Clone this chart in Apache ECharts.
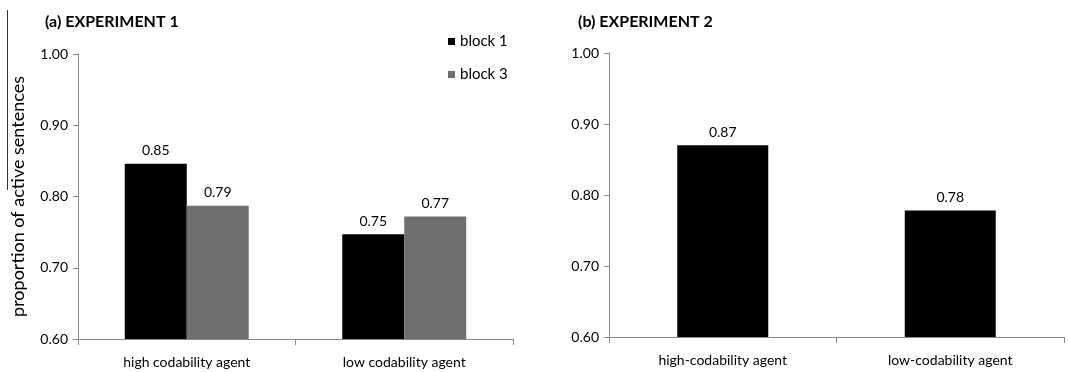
<!DOCTYPE html>
<html>
<head>
<meta charset="utf-8">
<script src="https://cdn.jsdelivr.net/npm/echarts@6/dist/echarts.min.js"></script>
<style>
  html, body { margin: 0; padding: 0; background: #fff; }
  #chart { width: 1068px; height: 372px; }
</style>
</head>
<body>
<div id="chart"></div>
<script>
// Experiment 1: proportion of active sentences by agent codability and block
const exp1Categories = ['high codability agent', 'low codability agent'];
const exp1Block1 = [0.846, 0.747];
const exp1Block3 = [0.787, 0.772];

// Experiment 2: proportion of active sentences by agent codability
const exp2Categories = ['high-codability agent', 'low-codability agent'];
const exp2Values = [0.870, 0.778];

const yTicks = { min: 0.6, max: 1.0, interval: 0.1 };

const FONT = 'Lato, "Liberation Sans", sans-serif';
const AXIS_GRAY = '#8a8a8a';
const TEXT = '#000000';

const valueLabel = {
  show: true,
  position: 'top',
  distance: 6,
  color: TEXT,
  fontFamily: FONT,
  fontSize: 14,
  formatter: p => p.value.toFixed(2)
};

function yAxis(gridIndex, withName) {
  return {
    type: 'value',
    gridIndex,
    min: yTicks.min,
    max: yTicks.max,
    interval: yTicks.interval,
    name: withName ? 'proportion of active sentences' : '',
    nameLocation: 'middle',
    nameGap: 51,
    nameTextStyle: { color: TEXT, fontFamily: FONT, fontSize: 18 },
    axisLine: { show: true, lineStyle: { color: AXIS_GRAY, width: 1 } },
    axisTick: { show: true, length: 5, lineStyle: { color: AXIS_GRAY } },
    axisLabel: { color: TEXT, fontFamily: FONT, fontSize: 14, margin: 10, formatter: v => v.toFixed(2) },
    splitLine: { show: false }
  };
}

function xAxis(gridIndex, data) {
  return {
    type: 'category',
    gridIndex,
    data,
    axisLine: { lineStyle: { color: AXIS_GRAY, width: 1 } },
    axisTick: { show: true, length: 6, lineStyle: { color: AXIS_GRAY } },
    axisLabel: { color: TEXT, fontFamily: FONT, fontSize: 14, margin: 16 }
  };
}

const chart = echarts.init(document.getElementById('chart'), null, { renderer: 'canvas' });

chart.setOption({
  animation: false,
  backgroundColor: '#fff',
  title: [
    { text: '(a) EXPERIMENT 1', left: 40, top: 9,
      textStyle: { fontFamily: FONT, fontSize: 16, fontWeight: 'bold', color: TEXT } },
    { text: '(b) EXPERIMENT 2', left: 573, top: 9,
      textStyle: { fontFamily: FONT, fontSize: 16, fontWeight: 'bold', color: TEXT } }
  ],
  legend: {
    data: ['block 1', 'block 3'],
    orient: 'vertical',
    left: 443,
    top: 29,
    icon: 'rect',
    itemWidth: 7,
    itemHeight: 7,
    itemGap: 18,
    textStyle: { fontFamily: FONT, fontSize: 15, color: TEXT, lineHeight: 14 }
  },
  grid: [
    { left: 78, top: 54, width: 435, height: 285 },
    { left: 609, top: 53, width: 455, height: 284 }
  ],
  xAxis: [xAxis(0, exp1Categories), xAxis(1, exp2Categories)],
  yAxis: [yAxis(0, true), yAxis(1, false)],
  series: [
    { name: 'block 1', type: 'bar', xAxisIndex: 0, yAxisIndex: 0, data: exp1Block1,
      itemStyle: { color: '#000000' }, barGap: '0%', barCategoryGap: '43%', label: valueLabel },
    { name: 'block 3', type: 'bar', xAxisIndex: 0, yAxisIndex: 0, data: exp1Block3,
      itemStyle: { color: '#6f6f6f' }, barGap: '0%', barCategoryGap: '43%', label: valueLabel },
    { name: 'experiment 2', type: 'bar', xAxisIndex: 1, yAxisIndex: 1, data: exp2Values,
      itemStyle: { color: '#000000' }, barCategoryGap: '60%', label: valueLabel }
  ],
  graphic: [
    // thin rule along the left margin
    { type: 'line', shape: { x1: 7.5, y1: 10, x2: 7.5, y2: 190 },
      style: { stroke: '#333', lineWidth: 1 } }
  ]
});
</script>
</body>
</html>
